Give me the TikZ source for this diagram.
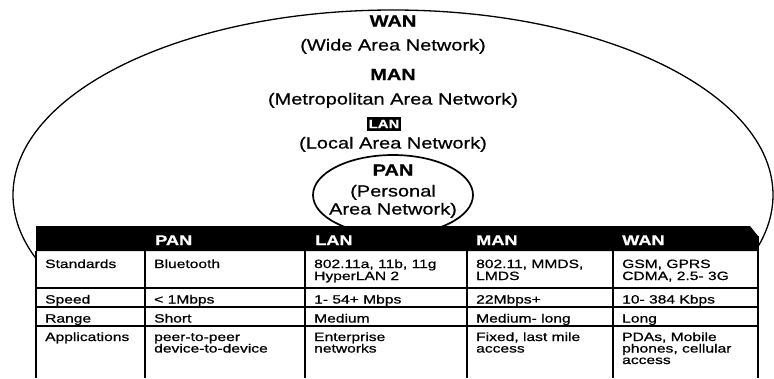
\documentclass[tikz,border=0pt]{standalone}
\usepackage{fontspec}
\setmainfont{Liberation Sans}
\newfontfamily\titlefont{Liberation Sans}[FakeStretch=1.25,FakeBold=0.6]
\newfontfamily\cellfont{Liberation Sans}[FakeStretch=1.3,FakeBold=0.8]
\begin{document}
\begin{tikzpicture}[x=1pt,y=-1pt,
  ttl/.style={font=\titlefont\fontsize{16}{16}\selectfont, anchor=base, inner sep=0},
  ttlb/.style={font=\titlefont\bfseries\fontsize{16}{16}\selectfont, anchor=base, inner sep=0},
  cell/.style={font=\cellfont\fontsize{12}{12}\selectfont, anchor=base west, inner sep=0},
  hcell/.style={font=\cellfont\bfseries\fontsize{14}{14}\selectfont, text=white, anchor=base west, inner sep=0},
  lanbox/.style={fill=black, text=white, font=\titlefont\bfseries\fontsize{12}{12}\selectfont, inner xsep=2, inner ysep=3},
  outline/.style={line width=1.3},
  grid/.style={line width=1.5}]
\useasboundingbox (0,0) rectangle (774,378);

% outer WAN ellipse and PAN ellipse
\begin{scope}
  \clip (0,0) rectangle (774,270);
  \draw[outline] (393,195) ellipse [x radius=380, y radius=185];
\end{scope}
\draw[line width=1.7] (393,195) ellipse [x radius=80, y radius=40];

% titles
\node[ttlb] (wan) at (393,26.5) {WAN};
\node[ttl] (wanf) at (393,50.5) {(Wide Area Network)};
\node[ttlb] (man) at (393,80) {MAN};
\node[ttl] (manf) at (393,104.5) {(Metropolitan Area Network)};
\node[lanbox] (lan) at (384,124) {LAN};
\node[ttl] (lanf) at (393,148.5) {(Local Area Network)};
\node[ttlb] (pan) at (393,175.5) {PAN};
\node[ttl] (panf1) at (393,196.5) {(Personal};
\node[ttl] (panf2) at (393,214.5) {Area Network)};

% table corners
\coordinate (hb) at (36,251);
\coordinate (br) at (758,378);
\fill[white] (hb) rectangle (br);
\fill[black] (36,226) -- (750,226) -- (758,236) -- (758,251) -- (36,251) -- cycle;

% table grid
\draw[grid] (36,251) -- (36,378);
\draw[grid] (758,236) -- (758,378);
\foreach \yy in {288,307,326} \draw[grid] (36,\yy) -- (758,\yy);
\foreach \xx in {145,305,467,613} \draw[grid] (\xx,251) -- (\xx,378);

% header
\node[hcell] (hpan) at (155,245) {PAN};
\node[hcell] (hlan) at (315,245) {LAN};
\node[hcell] (hman) at (476,245) {MAN};
\node[hcell] (hwan) at (622,245) {WAN};

% Standards
\node[cell] (r1c0) at (45,268) {Standards};
\node[cell] (r1c1) at (154,268) {Bluetooth};
\node[cell] (r1c2a) at (314,268) {802.11a, 11b, 11g};
\node[cell] (r1c2b) at (314,280) {HyperLAN 2};
\node[cell] (r1c3a) at (476,268) {802.11, MMDS,};
\node[cell] (r1c3b) at (476,280) {LMDS};
\node[cell] (r1c4a) at (622,268) {GSM, GPRS};
\node[cell] (r1c4b) at (622,280) {CDMA, 2.5- 3G};

% Speed
\node[cell] (r2c0) at (45,303.5) {Speed};
\node[cell] (r2c1) at (154,303.5) {< 1Mbps};
\node[cell] (r2c2) at (314,303.5) {1- 54+ Mbps};
\node[cell] (r2c3) at (476,303.5) {22Mbps+};
\node[cell] (r2c4) at (622,303.5) {10- 384 Kbps};

% Range
\node[cell] (r3c0) at (45,322.5) {Range};
\node[cell] (r3c1) at (154,322.5) {Short};
\node[cell] (r3c2) at (314,322.5) {Medium};
\node[cell] (r3c3) at (476,322.5) {Medium- long};
\node[cell] (r3c4) at (622,322.5) {Long};

% Applications
\node[cell] (r4c0) at (45,341) {Applications};
\node[cell] (r4c1a) at (154,341) {peer-to-peer};
\node[cell] (r4c1b) at (154,352.5) {device-to-device};
\node[cell] (r4c2a) at (314,341) {Enterprise};
\node[cell] (r4c2b) at (314,352.5) {networks};
\node[cell] (r4c3a) at (476,341) {Fixed, last mile};
\node[cell] (r4c3b) at (476,352.5) {access};
\node[cell] (r4c4a) at (622,341) {PDAs, Mobile};
\node[cell] (r4c4b) at (622,352.5) {phones, cellular};
\node[cell] (r4c4c) at (622,364) {access};
\end{tikzpicture}
\end{document}
